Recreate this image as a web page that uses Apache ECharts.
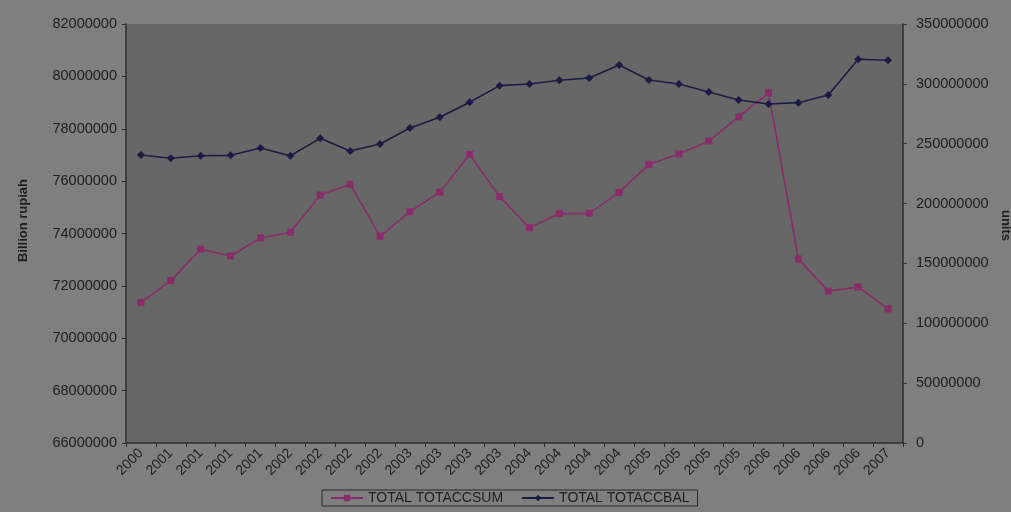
<!DOCTYPE html>
<html>
<head>
<meta charset="utf-8">
<script src="https://cdn.jsdelivr.net/npm/echarts@6/dist/echarts.min.js"></script>
<style>
  html, body { margin: 0; padding: 0; background: #7f7f7f; }
  #chart { width: 1011px; height: 512px; }
</style>
</head>
<body>
<div id="chart"></div>
<script>
// quarterly labels as shown on the x axis
const categories = ['2000', '2001', '2001', '2001', '2001', '2002', '2002', '2002', '2002',
  '2003', '2003', '2003', '2003', '2004', '2004', '2004', '2004',
  '2005', '2005', '2005', '2005', '2006', '2006', '2006', '2006', '2007'];

// Billion rupiah (left axis)
const totAccSum = [71370000, 72200000, 73400000, 73140000, 73830000, 74050000, 75470000, 75880000, 73900000,
  74830000, 75580000, 77020000, 75410000, 74220000, 74760000, 74770000, 75570000,
  76640000, 77040000, 77530000, 78450000, 79370000, 73030000, 71800000, 71960000, 71120000];

// units (right axis)
const totAccBal = [240600000, 237900000, 240000000, 240300000, 246400000, 240000000, 254500000, 243900000, 249800000,
  263100000, 272100000, 284600000, 298500000, 299900000, 303000000, 304900000, 315800000,
  303200000, 299900000, 293200000, 286500000, 283200000, 284300000, 290700000, 320500000, 319700000];

const textColor = '#1e1e1e';
const axisColor = '#2e2e2e';
const font = 'Liberation Sans, Arial, sans-serif';

const chart = echarts.init(document.getElementById('chart'));
chart.setOption({
  backgroundColor: '#7f7f7f',
  animation: false,
  grid: {
    left: 126, right: 108, top: 24, bottom: 69,
    outerBoundsMode: 'none',
    containLabel: false,
    show: true,
    backgroundColor: '#676767',
    borderWidth: 0
  },
  legend: {
    left: 322, top: 490,
    padding: [1, 8, 1, 8],
    borderColor: '#2a2a2a',
    borderWidth: 1,
    itemWidth: 32, itemHeight: 8,
    itemGap: 18,
    textStyle: { color: textColor, fontSize: 14, fontFamily: font },
    data: ['TOTAL TOTACCSUM', 'TOTAL TOTACCBAL']
  },
  xAxis: {
    type: 'category',
    data: categories,
    boundaryGap: true,
    axisLine: { lineStyle: { color: axisColor, width: 1.5 } },
    axisTick: { show: true, length: 4, lineStyle: { color: axisColor } },
    axisLabel: { rotate: 45, color: textColor, fontSize: 14, fontFamily: font, margin: 8, interval: 0 },
    splitLine: { show: false }
  },
  yAxis: [
    {
      type: 'value',
      min: 66000000, max: 82000000, interval: 2000000,
      name: 'Billion rupiah',
      nameLocation: 'middle',
      nameRotate: 90,
      nameGap: 96,
      nameTextStyle: { color: textColor, fontSize: 13, fontWeight: 'bold', fontFamily: font, padding: [0, 0, 0, 26] },
      axisLine: { show: true, lineStyle: { color: axisColor, width: 1.5 } },
      axisTick: { show: true, length: 4, lineStyle: { color: axisColor } },
      axisLabel: { color: textColor, fontSize: 14.5, fontFamily: font, margin: 9, formatter: v => String(v) },
      splitLine: { show: false }
    },
    {
      type: 'value',
      min: 0, max: 350000000, interval: 50000000,
      name: 'units',
      nameLocation: 'middle',
      nameRotate: -90,
      nameGap: 96,
      nameTextStyle: { color: textColor, fontSize: 13, fontWeight: 'bold', fontFamily: font, padding: [0, 16, 0, 0] },
      position: 'right',
      axisLine: { show: true, lineStyle: { color: axisColor, width: 1.5 } },
      axisTick: { show: true, length: 4, lineStyle: { color: axisColor } },
      axisLabel: { color: textColor, fontSize: 14.5, fontFamily: font, margin: 13, formatter: v => String(v) },
      splitLine: { show: false }
    }
  ],
  series: [
    {
      name: 'TOTAL TOTACCSUM',
      type: 'line',
      yAxisIndex: 0,
      data: totAccSum,
      symbol: 'rect',
      symbolSize: 7,
      lineStyle: { color: '#8a2c6c', width: 1.6 },
      itemStyle: { color: '#8a2c6c' }
    },
    {
      name: 'TOTAL TOTACCBAL',
      type: 'line',
      yAxisIndex: 1,
      data: totAccBal,
      symbol: 'diamond',
      symbolSize: 8,
      lineStyle: { color: '#1c1b46', width: 1.6 },
      itemStyle: { color: '#1c1b46' }
    }
  ]
});
</script>
</body>
</html>
